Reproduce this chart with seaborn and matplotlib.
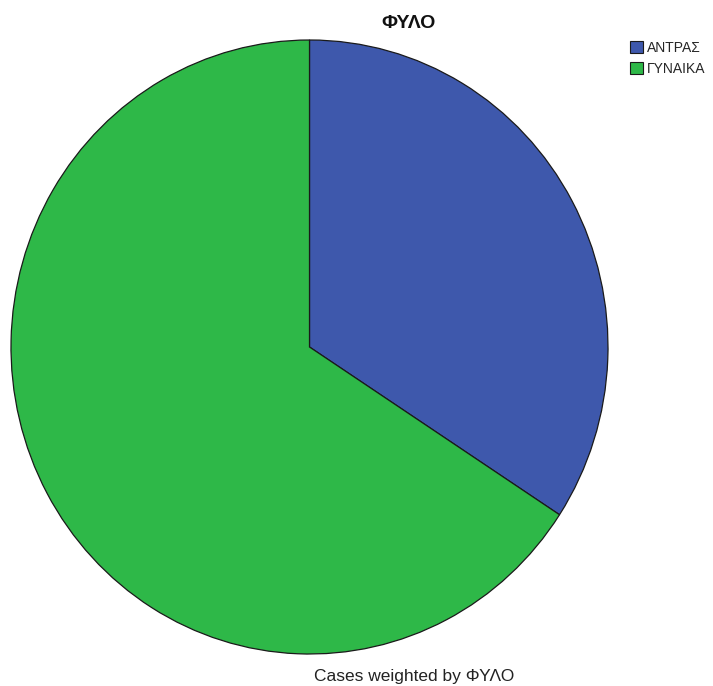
import matplotlib
matplotlib.use("Agg")
import matplotlib.pyplot as plt
import seaborn as sns

categories = ["ΑΝΤΡΑΣ", "ΓΥΝΑΙΚΑ"]
shares = [34.2, 65.8]
colors = ["#3E58AC", "#2EB848"]
title = "ΦΥΛΟ"
footer = "Cases weighted by ΦΥΛΟ"

sns.set_theme(style="white")
plt.rcParams["font.family"] = ["Liberation Sans", "DejaVu Sans"]

fig = plt.figure(figsize=(7.13, 6.86), dpi=100)
# pie is slightly elliptical in the reference (taller than wide)
ax = fig.add_axes([11 / 713, 32 / 686, 597 / 713, 614 / 686])
wedges, _ = ax.pie(shares, colors=colors, startangle=90, counterclock=False,
                   radius=1.0,
                   wedgeprops=dict(edgecolor="#1a1a1a", linewidth=0.9))
ax.set_xlim(-1.0, 1.0)
ax.set_ylim(-1.0, 1.0)
ax.set_aspect("auto")
ax.axis("off")

fig.text(409 / 713, 1 - 23 / 686, title, ha="center", va="center",
         fontsize=14, fontweight="bold", color="#111111")
fig.text(414 / 713, 1 - 676 / 686, footer, ha="center", va="center",
         fontsize=12.5, color="#222222")

leg = fig.legend(wedges, categories, loc="upper left",
                 bbox_to_anchor=(630 / 713, 1 - 41 / 686),
                 frameon=False, fontsize=10, handlelength=0.95, handleheight=0.95,
                 handletextpad=0.25, labelspacing=0.5, borderpad=0, borderaxespad=0)
for h in leg.legend_handles:
    h.set_edgecolor("#1a1a1a")
    h.set_linewidth(0.8)

fig.savefig("out.png", dpi=100, facecolor="white")
